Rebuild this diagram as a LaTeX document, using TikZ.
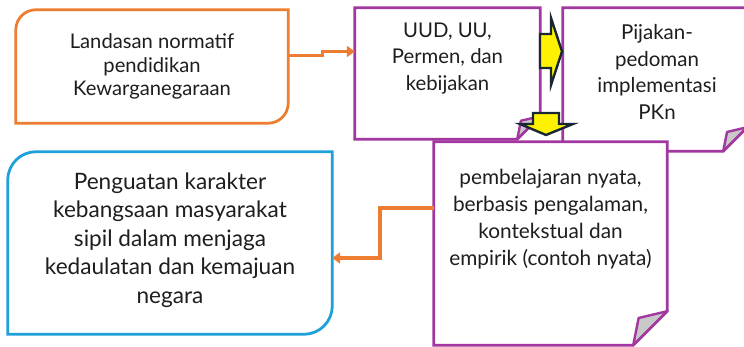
\documentclass[tikz,border=0pt]{standalone}
\usepackage{fontspec}
\setmainfont{Lato}
\usetikzlibrary{arrows.meta,calc}
\definecolor{lineorange}{RGB}{237,125,49}
\definecolor{notepurple}{RGB}{163,55,160}
\definecolor{capblue}{RGB}{30,160,218}
\definecolor{foldgray}{RGB}{200,200,200}
\definecolor{arrowedge}{RGB}{25,38,52}
\definecolor{inkgray}{RGB}{30,30,30}

\tikzset{
  box/.style={inner sep=0pt, draw=none},
  txt/.style={align=center, text=inkgray, inner sep=0pt},
  link/.style={draw=lineorange, line width=3.4pt, -{Triangle[length=8pt,width=11pt]}},
  note/.style={draw=notepurple, line width=2.8pt, fill=white, line join=miter},
  fold/.style={draw=notepurple, line width=2.4pt, fill=foldgray, line join=round},
  bigarrow/.style={draw=arrowedge, line width=2.4pt, fill=yellow, line join=miter},
}

% note with turned-up corner: node name, fold size
\newcommand{\notecorner}[2]{%
  \draw[note] (#1.south west) -- (#1.north west) -- (#1.north east)
    -- ([yshift=#2]#1.south east) -- ([xshift=-#2]#1.south east) -- cycle;
  \draw[fold] ([xshift=-#2]#1.south east) -- ([xshift=-0.84*#2, yshift=0.8*#2]#1.south east)
    -- ([yshift=#2]#1.south east) -- cycle;
}
% box with round top-left and bottom-right corners: node name, style, radius
\newcommand{\roundcap}[3]{%
  \draw[#2] (#1.north east) -- ([yshift=#3]#1.south east)
    arc[start angle=0, end angle=-90, radius=#3] -- (#1.south west)
    -- ([yshift=-#3]#1.north west) arc[start angle=180, end angle=90, radius=#3] -- cycle;
}

\begin{document}
\begin{tikzpicture}[x=1pt,y=1pt]
  \useasboundingbox (0,0) rectangle (744,347);

  % landasan
  \node[box, minimum width=272pt, minimum height=113pt] (a) at (152,280.5) {};
  \roundcap{a}{draw=lineorange, line width=2.8pt, fill=white}{20pt}
  \node[txt, font=\fontsize{20.2pt}{23.5pt}\selectfont] (at) at (a.center)
    {Landasan normatif\\pendidikan\\Kewarganegaraan};

  % penguatan
  \node[box, minimum width=324pt, minimum height=182pt] (e) at (170,104) {};
  \roundcap{e}{draw=capblue, line width=2.8pt, fill=white}{28pt}
  \node[txt, font=\fontsize{22.6pt}{28.5pt}\selectfont] (et) at ([yshift=3pt]e.center)
    {Penguatan karakter\\kebangsaan masyarakat\\sipil dalam menjaga\\kedaulatan dan kemajuan\\negara};

  % pijakan
  \node[box, minimum width=184pt, minimum height=143pt] (c) at (655,267.5) {};
  \notecorner{c}{24pt}
  \node[txt, font=\fontsize{20.5pt}{26.7pt}\selectfont] (ct) at ([xshift=2pt, yshift=7.5pt]c.center)
    {Pijakan-\\pedoman\\implementasi\\PKn};

  % uud
  \node[box, minimum width=185pt, minimum height=131pt] (b) at (447.5,273.5) {};
  \notecorner{b}{23pt}
  \node[txt, font=\fontsize{20.3pt}{26.5pt}\selectfont] (bt) at ([yshift=15pt]b.center)
    {UUD, UU,\\Permen, dan\\kebijakan};

  \draw[link] ([yshift=11pt]a.east) -- ++(34pt,0) |- ([yshift=22pt]b.west);

  % yellow block arrows
  \draw[bigarrow] (540,313) -- (551,313) -- (551,329) -- (562,295.5) -- (551,262)
    -- (551,279) -- (540,279) -- cycle;
  \draw[bigarrow] (533,234) -- (559,234) -- (559,223) -- (573,223) -- (546,212)
    -- (520,223) -- (533,223) -- cycle;

  % pembelajaran
  \node[box, minimum width=233pt, minimum height=203pt] (d) at (550.5,103.5) {};
  \notecorner{d}{34pt}
  \node[txt, font=\fontsize{20.8pt}{27pt}\selectfont] (dt) at ([yshift=24.5pt]d.center)
    {pembelajaran nyata,\\berbasis pengalaman,\\kontekstual dan\\empirik (contoh nyata)};

  \draw[link] ([yshift=35.5pt]d.west) -- ++(-54pt,0) |- ([yshift=-15pt]e.east);
\end{tikzpicture}
\end{document}
